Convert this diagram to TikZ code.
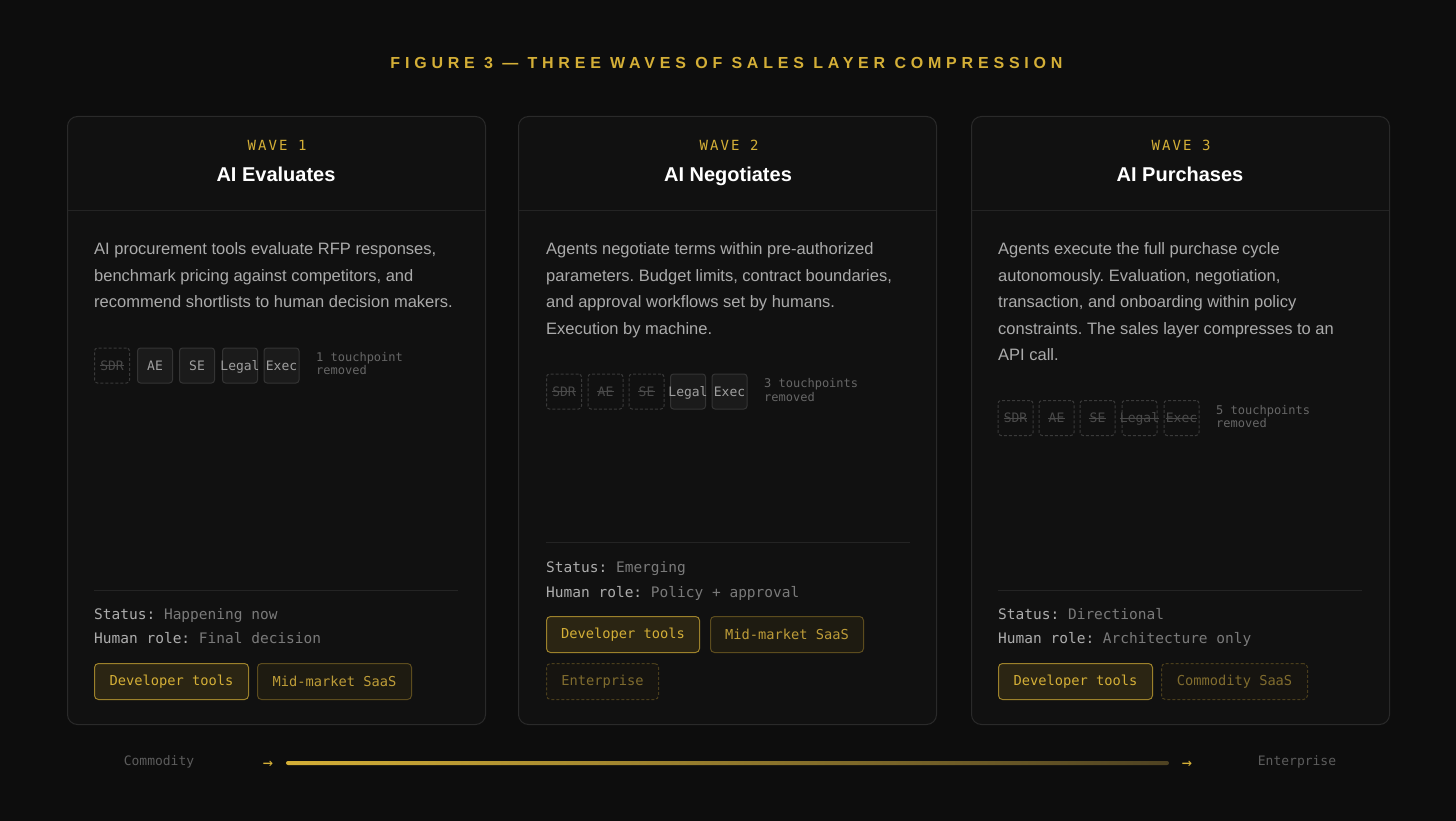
\documentclass[tikz,border=0pt]{standalone}
\usepackage{fontspec}
\setmainfont{Liberation Sans}
\setmonofont{DejaVu Sans Mono}
\newfontfamily\titlefont[LetterSpace=30]{Liberation Sans}
\newfontfamily\wavefont[LetterSpace=15]{DejaVu Sans Mono}
\frenchspacing
\definecolor{bg}{HTML}{0D0D0D}
\definecolor{cardbg}{HTML}{111111}
\definecolor{cardline}{HTML}{2A2A2A}
\definecolor{divline}{HTML}{242424}
\definecolor{gold}{HTML}{D4AF37}
\definecolor{golddim}{HTML}{4E4222}
\definecolor{bodytxt}{HTML}{ABABAB}
\definecolor{labtxt}{HTML}{ADADAD}
\definecolor{valtxt}{HTML}{7A7A7A}
\definecolor{tpfill}{HTML}{1B1B1B}
\definecolor{tpline}{HTML}{343434}
\definecolor{tptext}{HTML}{A0A0A0}
\definecolor{offline}{HTML}{3A3A3A}
\definecolor{offtext}{HTML}{4A4A4A}
\definecolor{notetxt}{HTML}{666666}
\definecolor{axistxt}{HTML}{5C5C5C}
\definecolor{tagAfill}{HTML}{2B2513}
\definecolor{tagAline}{HTML}{9C812B}
\definecolor{tagBfill}{HTML}{1E1B11}
\definecolor{tagBline}{HTML}{5C4C1E}
\definecolor{tagBtext}{HTML}{BD9C38}
\definecolor{tagCfill}{HTML}{161410}
\definecolor{tagCline}{HTML}{4A3E1C}
\definecolor{tagCtext}{HTML}{806C2E}
\tikzset{
  card/.style={draw=cardline, fill=cardbg, line width=1pt, rounded corners=10pt, minimum width=418pt, minimum height=608pt, anchor=north west, inner sep=0pt},
  divider/.style={draw=divline, line width=1pt},
  wavelbl/.style={anchor=base, text=gold, font=\wavefont\fontsize{14}{14}\selectfont},
  cardttl/.style={anchor=base, text=white, font=\bfseries\fontsize{20}{20}\selectfont},
  bodyln/.style={anchor=base west, text=bodytxt, font=\fontsize{16.5}{16.5}\selectfont, inner sep=0pt},
  tpbox/.style={draw=tpline, fill=tpfill, line width=1pt, rounded corners=3pt, minimum width=35pt, minimum height=35pt, inner sep=0pt},
  tpboxoff/.style={draw=offline, line width=1pt, dash pattern=on 3pt off 2pt, rounded corners=3pt, minimum width=35pt, minimum height=35pt, inner sep=0pt},
  tptxt/.style={text=tptext, inner sep=0pt, text height=9.5pt, text depth=0pt, font=\ttfamily\fontsize{13}{13}\selectfont},
  tptxtoff/.style={tptxt, text=offtext},
  strike/.style={draw=offtext, line width=0.9pt},
  note/.style={anchor=base west, text=notetxt, inner sep=0pt, font=\ttfamily\fontsize{12}{12}\selectfont},
  status/.style={anchor=base west, text=labtxt, inner sep=0pt, font=\ttfamily\fontsize{14.5}{14.5}\selectfont},
  tagbase/.style={line width=1pt, rounded corners=4pt, minimum height=36pt, anchor=north west, inner sep=0pt, font=\ttfamily\fontsize{13.7}{13.7}\selectfont},
  tagA/.style={tagbase, draw=tagAline, fill=tagAfill, text=gold},
  tagB/.style={tagbase, draw=tagBline, fill=tagBfill, text=tagBtext},
  tagC/.style={tagbase, draw=tagCline, fill=tagCfill, text=tagCtext, dash pattern=on 3pt off 2pt},
  axislbl/.style={text=axistxt, font=\ttfamily\fontsize{13}{13}\selectfont},
  arrowlbl/.style={text=gold, font=\ttfamily\fontsize{17}{17}\selectfont}
}
\newcommand\tpOn[4]{\node[tpbox] (#1) at (#2,#3) {}; \node[tptxt] (#1t) at (#1) {#4};}
\newcommand\tpOff[4]{\node[tpboxoff] (#1) at (#2,#3) {}; \node[tptxtoff] (#1t) at (#1) {#4}; \draw[strike] (#1t.west) -- (#1t.east);}
\begin{document}
\begin{tikzpicture}[x=1pt,y=-1pt]
\fill[bg] (0,0) rectangle (1456,821);
\useasboundingbox (0,0) rectangle (1456,821);

% title
\node[anchor=base, text=gold, font=\titlefont\bfseries\fontsize{16}{16}\selectfont] (title) at (726.5,69) {FIGURE 3 — THREE WAVES OF SALES LAYER COMPRESSION};

% cards
\node[card] (card1) at (67,116) {};
\node[card] (card2) at (518,116) {};
\node[card] (card3) at (971,116) {};
\draw[divider] (67.5,211) -- (484.5,211);
\draw[divider] (518.5,211) -- (935.5,211);
\draw[divider] (971.5,211) -- (1388.5,211);

% headers
\node[wavelbl] (w1) at (277,151) {WAVE 1};
\node[cardttl] (t1) at (276,182) {AI Evaluates};
\node[wavelbl] (w2) at (729,151) {WAVE 2};
\node[cardttl] (t2) at (728,182) {AI Negotiates};
\node[wavelbl] (w3) at (1181,151) {WAVE 3};
\node[cardttl] (t3) at (1180,182) {AI Purchases};

% body text card 1
\node[bodyln] (b11) at (94,254.5) {AI procurement tools evaluate RFP responses,};
\node[bodyln] (b12) at (94,281) {benchmark pricing against competitors, and};
\node[bodyln] (b13) at (94,307.5) {recommend shortlists to human decision makers.};
% card 2
\node[bodyln] (b21) at (546,254.5) {Agents negotiate terms within pre-authorized};
\node[bodyln] (b22) at (546,281) {parameters. Budget limits, contract boundaries,};
\node[bodyln] (b23) at (546,307.5) {and approval workflows set by humans.};
\node[bodyln] (b24) at (546,334) {Execution by machine.};
% card 3
\node[bodyln] (b31) at (998,254.5) {Agents execute the full purchase cycle};
\node[bodyln] (b32) at (998,281) {autonomously. Evaluation, negotiation,};
\node[bodyln] (b33) at (998,307.5) {transaction, and onboarding within policy};
\node[bodyln] (b34) at (998,334) {constraints. The sales layer compresses to an};
\node[bodyln] (b35) at (998,360.5) {API call.};

% touchpoints card 1
\tpOff{p11}{112}{365.5}{SDR}
\tpOn{p12}{155}{365.5}{AE}
\tpOn{p13}{197}{365.5}{SE}
\tpOn{p14}{240}{365.5}{Legal}
\tpOn{p15}{281.5}{365.5}{Exec}
\node[note] (n11) at (316,361) {1 touchpoint};
\node[note] (n12) at (316,374) {removed};
% touchpoints card 2
\tpOff{p21}{564}{391.5}{SDR}
\tpOff{p22}{605.5}{391.5}{AE}
\tpOff{p23}{646.5}{391.5}{SE}
\tpOn{p24}{688}{391.5}{Legal}
\tpOn{p25}{729.5}{391.5}{Exec}
\node[note] (n21) at (764,387) {3 touchpoints};
\node[note] (n22) at (764,401) {removed};
% touchpoints card 3
\tpOff{p31}{1015.5}{418}{SDR}
\tpOff{p32}{1056.5}{418}{AE}
\tpOff{p33}{1097.5}{418}{SE}
\tpOff{p34}{1139.5}{418}{Legal}
\tpOff{p35}{1181.5}{418}{Exec}
\node[note] (n31) at (1216,414) {5 touchpoints};
\node[note] (n32) at (1216,427) {removed};

% dividers
\draw[divider] (94,590) -- (458,590);
\draw[divider] (546,542) -- (910,542);
\draw[divider] (998,590) -- (1362,590);

% status
\node[status] (s11) at (94,619) {Status: \textcolor{valtxt}{Happening now}};
\node[status] (s12) at (94,643) {Human role: \textcolor{valtxt}{Final decision}};
\node[status] (s21) at (546,572) {Status: \textcolor{valtxt}{Emerging}};
\node[status] (s22) at (546,597) {Human role: \textcolor{valtxt}{Policy + approval}};
\node[status] (s31) at (998,619) {Status: \textcolor{valtxt}{Directional}};
\node[status] (s32) at (998,643) {Human role: \textcolor{valtxt}{Architecture only}};

% tags
\node[tagA, minimum width=154pt] (g11) at (94,663) {Developer tools};
\node[tagB, minimum width=154pt] (g12) at (257,663) {Mid-market SaaS};
\node[tagA, minimum width=153pt] (g21) at (546,616) {Developer tools};
\node[tagB, minimum width=153pt] (g22) at (710,616) {Mid-market SaaS};
\node[tagC, minimum width=112pt] (g23) at (546,663) {Enterprise};
\node[tagA, minimum width=154pt] (g31) at (998,663) {Developer tools};
\node[tagC, minimum width=146pt] (g32) at (1161,663) {Commodity SaaS};

% axis
\node[axislbl] (ax1) at (159,762) {Commodity};
\node[arrowlbl] (ar1) at (268,765) {→};
\shade[left color=gold, right color=golddim, rounded corners=2pt] (286,761) rectangle (1169,765);
\node[arrowlbl] (ar2) at (1187,765) {→};
\node[axislbl] (ax2) at (1297,762) {Enterprise};
\end{tikzpicture}
\end{document}
